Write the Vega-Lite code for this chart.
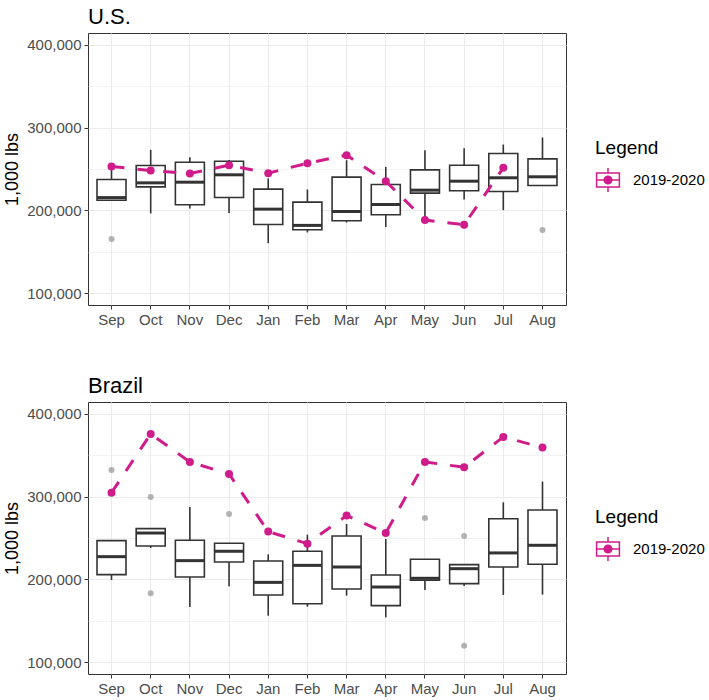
{
  "$schema": "https://vega.github.io/schema/vega-lite/v6.json",
  "background": "white",
  "padding": {"left": 3, "top": 5, "right": 5, "bottom": 5},
  "datasets": {
    "boxes": [
      {"country": "U.S.", "month": "Sep", "lower": 212400, "q1": 212400, "median": 215500, "q3": 237300, "upper": 251000},
      {"country": "U.S.", "month": "Oct", "lower": 196400, "q1": 228500, "median": 233300, "q3": 254200, "upper": 273100},
      {"country": "U.S.", "month": "Nov", "lower": 202400, "q1": 206800, "median": 234100, "q3": 258200, "upper": 264300},
      {"country": "U.S.", "month": "Dec", "lower": 196800, "q1": 215700, "median": 243000, "q3": 259400, "upper": 261000},
      {"country": "U.S.", "month": "Jan", "lower": 160600, "q1": 183100, "median": 201600, "q3": 225700, "upper": 238600},
      {"country": "U.S.", "month": "Feb", "lower": 173500, "q1": 176700, "median": 182000, "q3": 210000, "upper": 225300},
      {"country": "U.S.", "month": "Mar", "lower": 185500, "q1": 187600, "median": 198800, "q3": 240200, "upper": 260600},
      {"country": "U.S.", "month": "Apr", "lower": 180000, "q1": 194800, "median": 207200, "q3": 231300, "upper": 252600},
      {"country": "U.S.", "month": "May", "lower": 190000, "q1": 220900, "median": 224500, "q3": 249000, "upper": 272700},
      {"country": "U.S.", "month": "Jun", "lower": 213300, "q1": 223700, "median": 235300, "q3": 254600, "upper": 275100},
      {"country": "U.S.", "month": "Jul", "lower": 200400, "q1": 222900, "median": 239400, "q3": 268700, "upper": 279500},
      {"country": "U.S.", "month": "Aug", "lower": 230100, "q1": 230100, "median": 240600, "q3": 262200, "upper": 288000},
      {"country": "Brazil", "month": "Sep", "lower": 199400, "q1": 205800, "median": 227500, "q3": 246800, "upper": 246800},
      {"country": "Brazil", "month": "Oct", "lower": 238000, "q1": 240400, "median": 256000, "q3": 261300, "upper": 261300},
      {"country": "Brazil", "month": "Nov", "lower": 166800, "q1": 203000, "median": 222700, "q3": 247200, "upper": 287400},
      {"country": "Brazil", "month": "Dec", "lower": 191700, "q1": 221100, "median": 234000, "q3": 243600, "upper": 243600},
      {"country": "Brazil", "month": "Jan", "lower": 156300, "q1": 181300, "median": 196500, "q3": 222300, "upper": 230300},
      {"country": "Brazil", "month": "Feb", "lower": 167200, "q1": 170800, "median": 217000, "q3": 234000, "upper": 254000},
      {"country": "Brazil", "month": "Mar", "lower": 180500, "q1": 188500, "median": 215000, "q3": 252400, "upper": 266900},
      {"country": "Brazil", "month": "Apr", "lower": 154300, "q1": 168400, "median": 190900, "q3": 205400, "upper": 248800},
      {"country": "Brazil", "month": "May", "lower": 187300, "q1": 199000, "median": 201400, "q3": 224300, "upper": 224300},
      {"country": "Brazil", "month": "Jun", "lower": 192100, "q1": 195000, "median": 213000, "q3": 217900, "upper": 217900},
      {"country": "Brazil", "month": "Jul", "lower": 181300, "q1": 215000, "median": 232000, "q3": 273300, "upper": 293000},
      {"country": "Brazil", "month": "Aug", "lower": 181700, "q1": 218300, "median": 241200, "q3": 283800, "upper": 318000}
    ],
    "outliers": [
      {"country": "U.S.", "month": "Sep", "value": 165500},
      {"country": "U.S.", "month": "Aug", "value": 176300},
      {"country": "Brazil", "month": "Sep", "value": 332000},
      {"country": "Brazil", "month": "Oct", "value": 299500},
      {"country": "Brazil", "month": "Oct", "value": 183300},
      {"country": "Brazil", "month": "Dec", "value": 279000},
      {"country": "Brazil", "month": "May", "value": 274100},
      {"country": "Brazil", "month": "Jun", "value": 252400},
      {"country": "Brazil", "month": "Jun", "value": 120100}
    ],
    "line": [
      {"country": "U.S.", "month": "Sep", "value": 253000, "series": "2019-2020"},
      {"country": "U.S.", "month": "Oct", "value": 248200, "series": "2019-2020"},
      {"country": "U.S.", "month": "Nov", "value": 244600, "series": "2019-2020"},
      {"country": "U.S.", "month": "Dec", "value": 254600, "series": "2019-2020"},
      {"country": "U.S.", "month": "Jan", "value": 245000, "series": "2019-2020"},
      {"country": "U.S.", "month": "Feb", "value": 257000, "series": "2019-2020"},
      {"country": "U.S.", "month": "Mar", "value": 266700, "series": "2019-2020"},
      {"country": "U.S.", "month": "Apr", "value": 235300, "series": "2019-2020"},
      {"country": "U.S.", "month": "May", "value": 188400, "series": "2019-2020"},
      {"country": "U.S.", "month": "Jun", "value": 182700, "series": "2019-2020"},
      {"country": "U.S.", "month": "Jul", "value": 251400, "series": "2019-2020"},
      {"country": "Brazil", "month": "Sep", "value": 304700, "series": "2019-2020"},
      {"country": "Brazil", "month": "Oct", "value": 375500, "series": "2019-2020"},
      {"country": "Brazil", "month": "Nov", "value": 341700, "series": "2019-2020"},
      {"country": "Brazil", "month": "Dec", "value": 327200, "series": "2019-2020"},
      {"country": "Brazil", "month": "Jan", "value": 257700, "series": "2019-2020"},
      {"country": "Brazil", "month": "Feb", "value": 243200, "series": "2019-2020"},
      {"country": "Brazil", "month": "Mar", "value": 277000, "series": "2019-2020"},
      {"country": "Brazil", "month": "Apr", "value": 256000, "series": "2019-2020"},
      {"country": "Brazil", "month": "May", "value": 341700, "series": "2019-2020"},
      {"country": "Brazil", "month": "Jun", "value": 335300, "series": "2019-2020"},
      {"country": "Brazil", "month": "Jul", "value": 371900, "series": "2019-2020"},
      {"country": "Brazil", "month": "Aug", "value": 359000, "series": "2019-2020"}
    ]
  },
  "config": {
    "font": "Liberation Sans",
    "view": {"stroke": "#333333", "strokeWidth": 1},
    "concat": {"spacing": 46},
    "axis": {
      "labelFont": "Liberation Sans",
      "labelFontSize": 15,
      "labelColor": "#4D4D4D",
      "titleFont": "Liberation Sans",
      "titleFontSize": 18,
      "titleFontWeight": "normal",
      "titleColor": "black",
      "tickColor": "#333333",
      "tickSize": 4,
      "domain": false,
      "gridColor": "#EBEBEB",
      "labelPadding": 3
    },
    "title": {"font": "Liberation Sans", "fontSize": 22, "fontWeight": "normal", "color": "black", "anchor": "start", "frame": "group", "offset": 4},
    "legend": {"titleFont": "Liberation Sans", "labelFont": "Liberation Sans"}
  },
  "vconcat": [
    {
      "title": "U.S.",
      "width": 478,
      "height": 272,
      "layer": [
        {
          "data": {"name": "boxes"},
          "transform": [{"filter": "datum.country === 'U.S.'"}],
          "mark": {"type": "rule", "color": "#333333", "strokeWidth": 1.6},
          "encoding": {
            "x": {"field": "month", "type": "nominal", "sort": ["Sep","Oct","Nov","Dec","Jan","Feb","Mar","Apr","May","Jun","Jul","Aug"], "scale": {"paddingInner": 0.2, "paddingOuter": 0.2}, "axis": {"title": null, "labelAngle": 0, "grid": true, "gridWidth": 1}},
            "y": {"field": "lower", "type": "quantitative", "scale": {"domain": [86000, 414000], "nice": false, "zero": false}, "axis": {"title": "1,000 lbs", "values": [100000,150000,200000,250000,300000,350000,400000], "labelExpr": "datum.value % 100000 === 0 ? format(datum.value, ',') : ''", "tickColor": {"condition": {"test": "datum.value % 100000 !== 0", "value": "transparent"}, "value": "#333333"}, "gridWidth": {"condition": {"test": "datum.value % 100000 !== 0", "value": 0.6}, "value": 1.1}, "titlePadding": 5}},
            "y2": {"field": "upper"}
          }
        },
        {
          "data": {"name": "boxes"},
          "transform": [{"filter": "datum.country === 'U.S.'"}],
          "mark": {"type": "bar", "fill": "white", "stroke": "#333333", "strokeWidth": 1.6, "width": 29},
          "encoding": {
            "x": {"field": "month", "type": "nominal", "sort": ["Sep","Oct","Nov","Dec","Jan","Feb","Mar","Apr","May","Jun","Jul","Aug"]},
            "y": {"field": "q1", "type": "quantitative"},
            "y2": {"field": "q3"}
          }
        },
        {
          "data": {"name": "boxes"},
          "transform": [{"filter": "datum.country === 'U.S.'"}],
          "mark": {"type": "tick", "color": "#333333", "thickness": 3, "size": 29, "opacity": 1},
          "encoding": {
            "x": {"field": "month", "type": "nominal", "sort": ["Sep","Oct","Nov","Dec","Jan","Feb","Mar","Apr","May","Jun","Jul","Aug"]},
            "y": {"field": "median", "type": "quantitative"}
          }
        },
        {
          "data": {"name": "outliers"},
          "transform": [{"filter": "datum.country === 'U.S.'"}],
          "mark": {"type": "circle", "color": "#9A9A9A", "opacity": 0.75, "size": 36},
          "encoding": {
            "x": {"field": "month", "type": "nominal", "sort": ["Sep","Oct","Nov","Dec","Jan","Feb","Mar","Apr","May","Jun","Jul","Aug"]},
            "y": {"field": "value", "type": "quantitative"}
          }
        },
        {
          "data": {"name": "line"},
          "transform": [{"filter": "datum.country === 'U.S.'"}],
          "mark": {"type": "line", "strokeWidth": 3, "strokeDash": [13, 13]},
          "encoding": {
            "x": {"field": "month", "type": "nominal", "sort": ["Sep","Oct","Nov","Dec","Jan","Feb","Mar","Apr","May","Jun","Jul","Aug"]},
            "y": {"field": "value", "type": "quantitative"},
            "color": {"field": "series", "type": "nominal", "scale": {"range": ["#D01C8B"]}, "legend": {"title": "Legend", "orient": "none", "legendX": 507, "legendY": 106, "titleFontSize": 19, "titleFontWeight": "normal", "titleColor": "black", "labelFontSize": 15, "labelColor": "black", "symbolType": "M-0.95,-0.58H0.95V0.58H-0.95Z M-0.95,0H0.95 M0,-0.58V-1 M0,0.58V1 M0.32,0A0.32,0.32 0 1,1 -0.32,0A0.32,0.32 0 1,1 0.32,0 M0.21,0A0.21,0.21 0 1,1 -0.21,0A0.21,0.21 0 1,1 0.21,0 M0.1,0A0.1,0.1 0 1,1 -0.1,0A0.1,0.1 0 1,1 0.1,0", "symbolSize": 576, "symbolStrokeWidth": 1.5, "titlePadding": 9, "labelOffset": 12, "encode": {"symbols": {"update": {"strokeDash": {"value": []}, "fill": {"value": "transparent"}, "stroke": {"value": "#D01C8B"}, "strokeWidth": {"value": 1.5}}}}}}
          }
        },
        {
          "data": {"name": "line"},
          "transform": [{"filter": "datum.country === 'U.S.'"}],
          "mark": {"type": "circle", "color": "#D01C8B", "opacity": 1, "size": 64},
          "encoding": {
            "x": {"field": "month", "type": "nominal", "sort": ["Sep","Oct","Nov","Dec","Jan","Feb","Mar","Apr","May","Jun","Jul","Aug"]},
            "y": {"field": "value", "type": "quantitative"}
          }
        }
      ]
    },
    {
      "title": "Brazil",
      "width": 478,
      "height": 272,
      "layer": [
        {
          "data": {"name": "boxes"},
          "transform": [{"filter": "datum.country === 'Brazil'"}],
          "mark": {"type": "rule", "color": "#333333", "strokeWidth": 1.6},
          "encoding": {
            "x": {"field": "month", "type": "nominal", "sort": ["Sep","Oct","Nov","Dec","Jan","Feb","Mar","Apr","May","Jun","Jul","Aug"], "scale": {"paddingInner": 0.2, "paddingOuter": 0.2}, "axis": {"title": null, "labelAngle": 0, "grid": true, "gridWidth": 1}},
            "y": {"field": "lower", "type": "quantitative", "scale": {"domain": [86000, 414000], "nice": false, "zero": false}, "axis": {"title": "1,000 lbs", "values": [100000,150000,200000,250000,300000,350000,400000], "labelExpr": "datum.value % 100000 === 0 ? format(datum.value, ',') : ''", "tickColor": {"condition": {"test": "datum.value % 100000 !== 0", "value": "transparent"}, "value": "#333333"}, "gridWidth": {"condition": {"test": "datum.value % 100000 !== 0", "value": 0.6}, "value": 1.1}, "titlePadding": 5}},
            "y2": {"field": "upper"}
          }
        },
        {
          "data": {"name": "boxes"},
          "transform": [{"filter": "datum.country === 'Brazil'"}],
          "mark": {"type": "bar", "fill": "white", "stroke": "#333333", "strokeWidth": 1.6, "width": 29},
          "encoding": {
            "x": {"field": "month", "type": "nominal", "sort": ["Sep","Oct","Nov","Dec","Jan","Feb","Mar","Apr","May","Jun","Jul","Aug"]},
            "y": {"field": "q1", "type": "quantitative"},
            "y2": {"field": "q3"}
          }
        },
        {
          "data": {"name": "boxes"},
          "transform": [{"filter": "datum.country === 'Brazil'"}],
          "mark": {"type": "tick", "color": "#333333", "thickness": 3, "size": 29, "opacity": 1},
          "encoding": {
            "x": {"field": "month", "type": "nominal", "sort": ["Sep","Oct","Nov","Dec","Jan","Feb","Mar","Apr","May","Jun","Jul","Aug"]},
            "y": {"field": "median", "type": "quantitative"}
          }
        },
        {
          "data": {"name": "outliers"},
          "transform": [{"filter": "datum.country === 'Brazil'"}],
          "mark": {"type": "circle", "color": "#9A9A9A", "opacity": 0.75, "size": 36},
          "encoding": {
            "x": {"field": "month", "type": "nominal", "sort": ["Sep","Oct","Nov","Dec","Jan","Feb","Mar","Apr","May","Jun","Jul","Aug"]},
            "y": {"field": "value", "type": "quantitative"}
          }
        },
        {
          "data": {"name": "line"},
          "transform": [{"filter": "datum.country === 'Brazil'"}],
          "mark": {"type": "line", "strokeWidth": 3, "strokeDash": [13, 13]},
          "encoding": {
            "x": {"field": "month", "type": "nominal", "sort": ["Sep","Oct","Nov","Dec","Jan","Feb","Mar","Apr","May","Jun","Jul","Aug"]},
            "y": {"field": "value", "type": "quantitative"},
            "color": {"field": "series", "type": "nominal", "scale": {"range": ["#D01C8B"]}, "legend": {"title": "Legend", "orient": "none", "legendX": 507, "legendY": 106, "titleFontSize": 19, "titleFontWeight": "normal", "titleColor": "black", "labelFontSize": 15, "labelColor": "black", "symbolType": "M-0.95,-0.58H0.95V0.58H-0.95Z M-0.95,0H0.95 M0,-0.58V-1 M0,0.58V1 M0.32,0A0.32,0.32 0 1,1 -0.32,0A0.32,0.32 0 1,1 0.32,0 M0.21,0A0.21,0.21 0 1,1 -0.21,0A0.21,0.21 0 1,1 0.21,0 M0.1,0A0.1,0.1 0 1,1 -0.1,0A0.1,0.1 0 1,1 0.1,0", "symbolSize": 576, "symbolStrokeWidth": 1.5, "titlePadding": 9, "labelOffset": 12, "encode": {"symbols": {"update": {"strokeDash": {"value": []}, "fill": {"value": "transparent"}, "stroke": {"value": "#D01C8B"}, "strokeWidth": {"value": 1.5}}}}}}
          }
        },
        {
          "data": {"name": "line"},
          "transform": [{"filter": "datum.country === 'Brazil'"}],
          "mark": {"type": "circle", "color": "#D01C8B", "opacity": 1, "size": 64},
          "encoding": {
            "x": {"field": "month", "type": "nominal", "sort": ["Sep","Oct","Nov","Dec","Jan","Feb","Mar","Apr","May","Jun","Jul","Aug"]},
            "y": {"field": "value", "type": "quantitative"}
          }
        }
      ]
    }
  ],
  "resolve": {"scale": {"color": "independent"}, "legend": {"color": "independent"}}
}
